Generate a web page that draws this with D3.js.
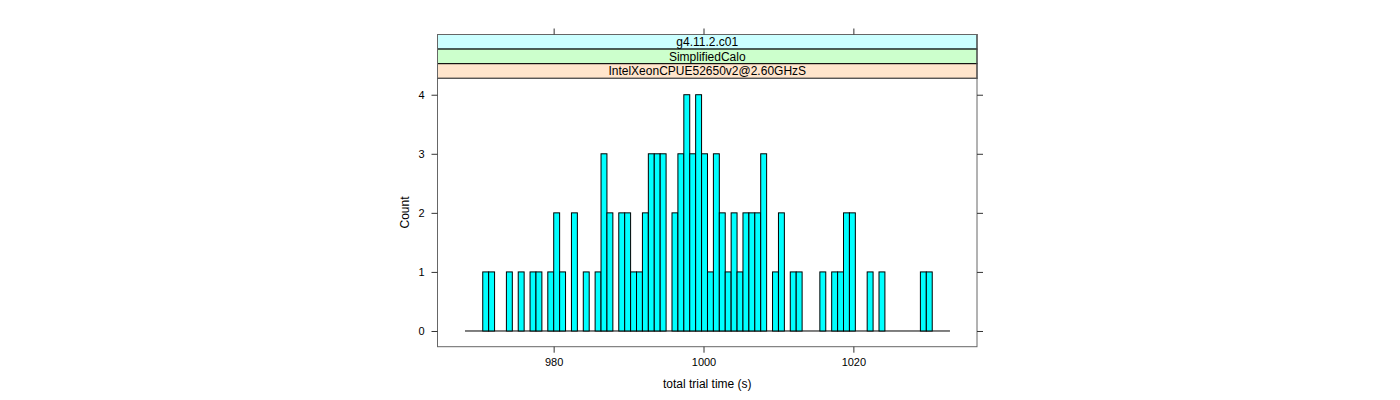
<!DOCTYPE html>
<html>
<head>
<meta charset="utf-8">
<script src="https://cdn.jsdelivr.net/npm/d3@7"></script>
<style>
  html, body { margin: 0; padding: 0; background: #fff; }
  svg { display: block; font-family: "Liberation Sans", Arial, Helvetica, sans-serif; }
</style>
</head>
<body>
<svg id="chart" width="1400" height="400"></svg>
<script>
// ---- data ----
const counts = [0,0,0,1,1,0,0,1,0,1,0,1,1,0,1,2,1,0,2,0,
                1,0,1,3,2,0,2,2,1,1,2,3,3,3,0,2,3,4,3,4,
                3,1,3,2,1,2,1,2,2,2,3,0,1,2,0,1,1,0,0,0,
                1,0,1,1,2,2,0,0,1,0,1,0,0,0,0,0,0,1,1,0,
                0,0];
const breakStart = 968.17;   // first histogram break (s)
const binWidth = 0.7893;     // histogram bin width (s)
const xTicks = [980, 1000, 1020];
const yTicks = [0, 1, 2, 3, 4];
const stripLabels = ["g4.11.2.c01", "SimplifiedCalo", "IntelXeonCPUE52650v2@2.60GHzS"];
const stripColors = ["#ccffff", "#ccffcc", "#ffe5cc"];
const xLabel = "total trial time (s)";
const yLabel = "Count";

// ---- layout ----
const panel = { left: 437.5, right: 977, top: 78.3, bottom: 346.7 };
const stripTop = 34.5, stripH = 14.6;

const bins = counts.map((c, i) => ({ x0: breakStart + i * binWidth, x1: breakStart + (i + 1) * binWidth, count: c }));

const x = d3.scaleLinear().domain([964.5, 1036.5]).range([panel.left, panel.right]);
const y = d3.scaleLinear().domain([-0.266, 4.278]).range([panel.bottom, panel.top]);

const svg = d3.select("#chart");

// baseline of histogram
svg.append("line")
  .attr("x1", x(bins[0].x0)).attr("x2", x(bins[bins.length - 1].x1))
  .attr("y1", y(0)).attr("y2", y(0))
  .attr("stroke", "#000").attr("stroke-width", 1);

// bars
svg.append("g").selectAll("rect")
  .data(bins.filter(d => d.count > 0))
  .join("rect")
  .attr("x", d => x(d.x0))
  .attr("width", d => x(d.x1) - x(d.x0))
  .attr("y", d => y(d.count))
  .attr("height", d => y(0) - y(d.count))
  .attr("fill", "#00ffff")
  .attr("stroke", "#000")
  .attr("stroke-width", 1);

// panel frame
svg.append("rect")
  .attr("x", panel.left).attr("y", panel.top)
  .attr("width", panel.right - panel.left).attr("height", panel.bottom - panel.top)
  .attr("fill", "none").attr("stroke", "#666").attr("stroke-width", 1);

// strips
stripLabels.forEach((lab, i) => {
  const yy = stripTop + i * stripH;
  svg.append("rect")
    .attr("x", panel.left).attr("y", yy)
    .attr("width", panel.right - panel.left).attr("height", stripH)
    .attr("fill", stripColors[i]).attr("stroke", "#000").attr("stroke-width", 1);
  svg.append("text")
    .attr("x", (panel.left + panel.right) / 2).attr("y", yy + stripH / 2 + 4.3)
    .attr("text-anchor", "middle").attr("font-size", 12).attr("fill", "#000")
    .text(lab);
});
// outer strip border in grey
svg.append("rect")
  .attr("x", panel.left).attr("y", stripTop)
  .attr("width", panel.right - panel.left).attr("height", panel.top - stripTop)
  .attr("fill", "none").attr("stroke", "#666").attr("stroke-width", 1);

// axes
function styleAxis(g) {
  g.select(".domain").remove();
  g.selectAll(".tick line").attr("stroke", "#333");
  g.selectAll(".tick text").attr("font-size", 11).attr("fill", "#000")
    .attr("font-family", "'Liberation Sans', Arial, sans-serif");
}
svg.append("g").attr("transform", `translate(0,${panel.bottom})`)
  .call(d3.axisBottom(x).tickValues(xTicks).tickSize(6).tickPadding(6).tickFormat(d3.format("d")))
  .call(styleAxis);
svg.append("g").attr("transform", `translate(0,${stripTop})`)
  .call(d3.axisTop(x).tickValues(xTicks).tickSize(6).tickFormat(""))
  .call(styleAxis);
svg.append("g").attr("transform", `translate(${panel.left},0)`)
  .call(d3.axisLeft(y).tickValues(yTicks).tickSize(6).tickPadding(7).tickFormat(d3.format("d")))
  .call(styleAxis);
svg.append("g").attr("transform", `translate(${panel.right},0)`)
  .call(d3.axisRight(y).tickValues(yTicks).tickSize(6).tickFormat(""))
  .call(styleAxis);

// axis titles
svg.append("text")
  .attr("x", (panel.left + panel.right) / 2).attr("y", 388)
  .attr("text-anchor", "middle").attr("font-size", 12).attr("fill", "#000")
  .text(xLabel);
svg.append("text")
  .attr("transform", `translate(409,${(panel.top + panel.bottom) / 2}) rotate(-90)`)
  .attr("text-anchor", "middle").attr("font-size", 12).attr("fill", "#000")
  .text(yLabel);
</script>
</body>
</html>
